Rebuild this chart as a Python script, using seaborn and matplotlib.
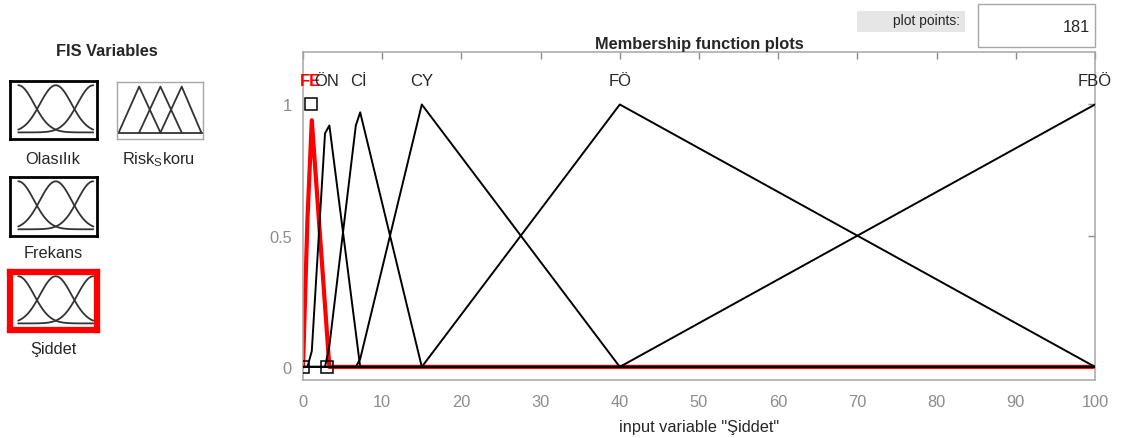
import numpy as np
import pandas as pd
import seaborn as sns
import matplotlib.pyplot as plt
from matplotlib.patches import Rectangle

sns.set_style("white")
plt.rcParams['font.family'] = ['Liberation Sans', 'DejaVu Sans']

# membership functions of "Şiddet" as drawn (181 plot points, vertices)
mf_names = ["FE", "ÖN", "Cİ", "CY", "FÖ", "FBÖ"]
mf_peaks = [1, 3, 7, 15, 40, 100]
fe_x = [0, 0.56, 1.11, 3.33, 100]
fe_y = [0, 0.56, 0.94, 0, 0]
on_x = [0, 0.56, 1.11, 2.78, 3.33, 7.22, 100]
on_y = [0, 0, 0.06, 0.89, 0.92, 0, 0]
ci_x = [0, 2.78, 3.33, 6.67, 7.22, 15, 100]
ci_y = [0, 0, 0.08, 0.92, 0.97, 0, 0]
cy_x = [0, 6.67, 7.22, 15, 40, 100]
cy_y = [0, 0, 0.03, 1, 0, 0]
fo_x = [0, 15, 40, 100]
fo_y = [0, 0, 1, 0]
fbo_x = [0, 40, 100]
fbo_y = [0, 0, 1]
# squares on the selected MF (FE = trimf [0 1 3])
sel_x = [0, 1, 3]
sel_y = [0, 1, 0]

# icon MF parameters
gauss_centers = [0, 0.5, 1]
gauss_sigma = 0.21
tri_params = [[0.01, 0.25, 0.5], [0.25, 0.5, 0.75], [0.5, 0.75, 0.98]]

W, H = 1130, 439
fig = plt.figure(figsize=(W / 100, H / 100), dpi=100)
FS = 11.8
dark = '#262626'


def fbox(x0, y0, x1, y1):
    return [x0 / W, 1 - y1 / H, (x1 - x0) / W, (y1 - y0) / H]


gray = '#8c8c8c'
ax = fig.add_axes(fbox(303, 53, 1095, 381))
black_sets = [(on_x, on_y), (ci_x, ci_y), (cy_x, cy_y), (fo_x, fo_y), (fbo_x, fbo_y)]
sns.lineplot(x=fe_x, y=fe_y, ax=ax, color='#ff0000', lw=3, sort=False,
             estimator=None, zorder=2)
for xs, ys in black_sets:
    sns.lineplot(x=xs, y=ys, ax=ax, color='black', lw=1.4, sort=False,
                 estimator=None, zorder=3)
ax.plot(sel_x, sel_y, ls='none', marker='s', ms=8, mfc='none', mec='black',
        mew=1.1, zorder=4)
ax.plot([0, 3], [0, 0], color='black', lw=1.2, zorder=3)
for name, p in zip(mf_names, mf_peaks):
    if name == "FE":
        ax.text(p, 1.09, name, color='#ff0000', fontweight='bold', fontsize=12,
                ha='center', va='center')
    else:
        ax.text(p, 1.09, name, color=dark, fontsize=12, ha='center', va='center')

ax.set_xlim(0, 100)
ax.set_ylim(-0.05, 1.2)
ax.set_xticks(range(0, 101, 10))
ax.set_yticks([0, 0.5, 1])
ax.set_yticklabels(["0", "0.5", "1"])
ax.tick_params(direction='in', length=5, color=gray, labelcolor=gray, labelsize=FS,
               top=True, right=True, width=1)
ax.tick_params(axis='x', pad=10)
ax.tick_params(axis='y', pad=8)
for s in ax.spines.values():
    s.set_color('#a6a6a6')
    s.set_linewidth(1.1)
ax.set_xlabel('input variable "Şiddet"', fontsize=FS, color=dark, labelpad=7)
ax.set_ylabel('')
ax.set_title('Membership function plots', fontsize=FS, fontweight='bold',
             color=dark, pad=3)

# left panel
fig.text(107 / W, 1 - 52 / H, 'FIS Variables', fontsize=FS, fontweight='bold',
         ha='center', va='center', color=dark)


def gauss_icon(box, edge, lw):
    a = fig.add_axes(fbox(*box))
    xs = np.linspace(0, 1, 60)
    for c in gauss_centers:
        a.plot(xs, np.exp(-(xs - c) ** 2 / (2 * gauss_sigma ** 2)), color='#333333', lw=1.3)
    a.set_xlim(-0.11, 1.05)
    a.set_ylim(-0.14, 1.09)
    a.set_xticks([])
    a.set_yticks([])
    for s in a.spines.values():
        s.set_color(edge)
        s.set_linewidth(lw)
    return a


gauss_icon((10, 82, 97, 140), 'black', 2)
gauss_icon((10, 178, 97, 237), 'black', 2)
gauss_icon((10, 273, 97, 331), '#ff0000', 4.5)

ra = fig.add_axes(fbox(117, 83, 203, 140))
for a0, b0, c0 in tri_params:
    ra.plot([a0, b0, c0], [0, 1, 0], color='#333333', lw=1.3)
ra.plot([0, 1], [0, 0], color='#333333', lw=1.3)
ra.set_xlim(-0.01, 1.0)
ra.set_ylim(-0.14, 1.1)
ra.set_xticks([])
ra.set_yticks([])
for s in ra.spines.values():
    s.set_color('#a6a6a6')
    s.set_linewidth(1)

fig.text(53 / W, 1 - 160 / H, 'Olasılık', fontsize=FS, ha='center', va='center', color=dark)
fig.text(158 / W, 1 - 160 / H, r'Risk$_{\mathregular{S}}$koru', fontsize=FS, ha='center',
         va='center', color=dark)
fig.text(53 / W, 1 - 254 / H, 'Frekans', fontsize=FS, ha='center', va='center', color=dark)
fig.text(53 / W, 1 - 350 / H, 'Şiddet', fontsize=FS, ha='center', va='center', color=dark)

# plot points controls
fig.patches.append(Rectangle((857 / W, 1 - 33 / H), 108 / W, 21 / H, transform=fig.transFigure,
                             facecolor='#e6e6e6', edgecolor='none'))
fig.text(960 / W, 1 - 21 / H, 'plot points:', fontsize=10, ha='right', va='center', color=dark)
fig.patches.append(Rectangle((978 / W, 1 - 48 / H), 117 / W, 43 / H, transform=fig.transFigure,
                             facecolor='white', edgecolor='#a6a6a6', lw=1))
fig.text(1090 / W, 1 - 28 / H, '181', fontsize=FS, ha='right', va='center', color=dark)

fig.savefig('out.png', dpi=100, facecolor='white')
